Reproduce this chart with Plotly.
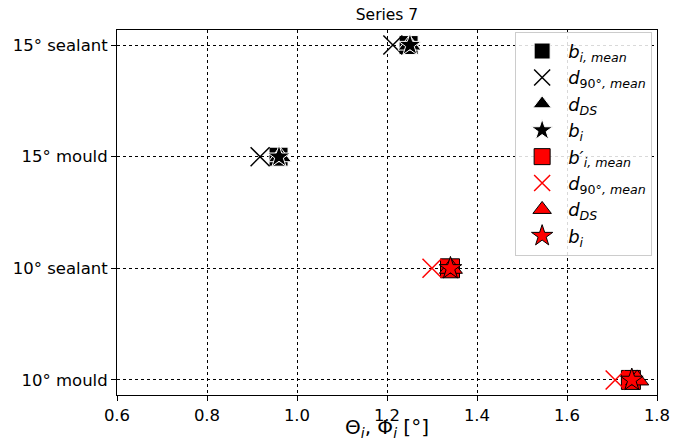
import plotly.graph_objects as go

categories = ["10° mould", "10° sealant", "15° mould", "15° sealant"]
x_ticks = [0.6, 0.8, 1.0, 1.2, 1.4, 1.6, 1.8]

cats_black = ["15° mould", "15° sealant"]
b_mean_black = [0.959, 1.248]
d90_black = [0.918, 1.213]
dds_black = [0.962, 1.250]
bi_black = [0.960, 1.251]

cats_red = ["10° mould", "10° sealant"]
b_mean_red = [1.742, 1.340]
d90_red = [1.707, 1.300]
dds_red = [1.756, 1.342]
bi_red = [1.744, 1.341]

FONT = "DejaVu Sans"
fig = go.Figure()

def add(x, y, name, symbol, size, fill, edge, ew):
    if symbol == "x-thin":
        marker = dict(symbol=symbol, size=size, color=fill, line=dict(color=fill, width=1.5))
    else:
        marker = dict(symbol=symbol, size=size, color=fill, line=dict(color=edge, width=ew))
    fig.add_trace(go.Scatter(x=x, y=y, mode="markers", name=name, marker=marker))

add(b_mean_black, cats_black, "<i>b<sub>i, mean</sub></i>", "square", 19, "black", "white", 1)
add(d90_black, cats_black, "<i>d</i><sub>90°<i>, mean</i></sub>", "x-thin", 19, "black", "black", 1)
add(dds_black, cats_black, "<i>d<sub>DS</sub></i>", "triangle-up", 20, "black", "white", 1)
add(bi_black, cats_black, "<i>b<sub>i</sub></i>", "star", 17, "black", "white", 1)
add(b_mean_red, cats_red, "<i>b′<sub>i, mean</sub></i>", "square", 19, "red", "black", 1)
add(d90_red, cats_red, "<i>d</i><sub>90°<i>, mean</i></sub>", "x-thin", 19, "red", "red", 1)
add(dds_red, cats_red, "<i>d<sub>DS</sub></i>", "triangle-up", 20, "red", "black", 1)
add(bi_red, cats_red, "<i>b<sub>i</sub></i>", "star", 17, "red", "black", 1)

fig.update_layout(
    width=673, height=441,
    margin=dict(l=117, r=16, t=30, b=46),
    paper_bgcolor="white", plot_bgcolor="white",
    font=dict(family=FONT, size=16.5, color="black"),
    title=dict(text="Series 7", x=(117 + 270) / 673, xanchor="center", y=1 - 15 / 441, yanchor="middle",
               font=dict(size=15.5)),
    showlegend=True,
    legend=dict(x=0.991, y=0.995, xanchor="right", yanchor="top",
                bgcolor="rgba(255,255,255,0.85)", bordercolor="#cccccc", borderwidth=1,
                font=dict(size=18), itemsizing="trace", itemwidth=42),
    xaxis=dict(range=[0.6, 1.8], tickvals=x_ticks, ticktext=[f"{v:.1f}" for v in x_ticks],
               showgrid=True, gridcolor="black", griddash="dot", gridwidth=1,
               showline=True, linecolor="black", linewidth=1, mirror=True,
               ticks="outside", ticklen=5, tickcolor="black", zeroline=False,
               automargin=False,
               title=dict(text="Θ<sub><i>i</i></sub>, Φ<sub><i>i</i></sub> [°]", standoff=3)),
    yaxis=dict(type="category", categoryorder="array", categoryarray=categories,
               range=[-0.135, 3.135], automargin=False,
               showgrid=True, gridcolor="black", griddash="dot", gridwidth=1,
               showline=True, linecolor="black", linewidth=1, mirror=True,
               ticks="outside", ticklen=5, tickcolor="black", zeroline=False),
)

fig.write_html("out.html", config={"displayModeBar": False},
               post_script="document.body.style.margin='0px';document.body.style.overflow='hidden';")
